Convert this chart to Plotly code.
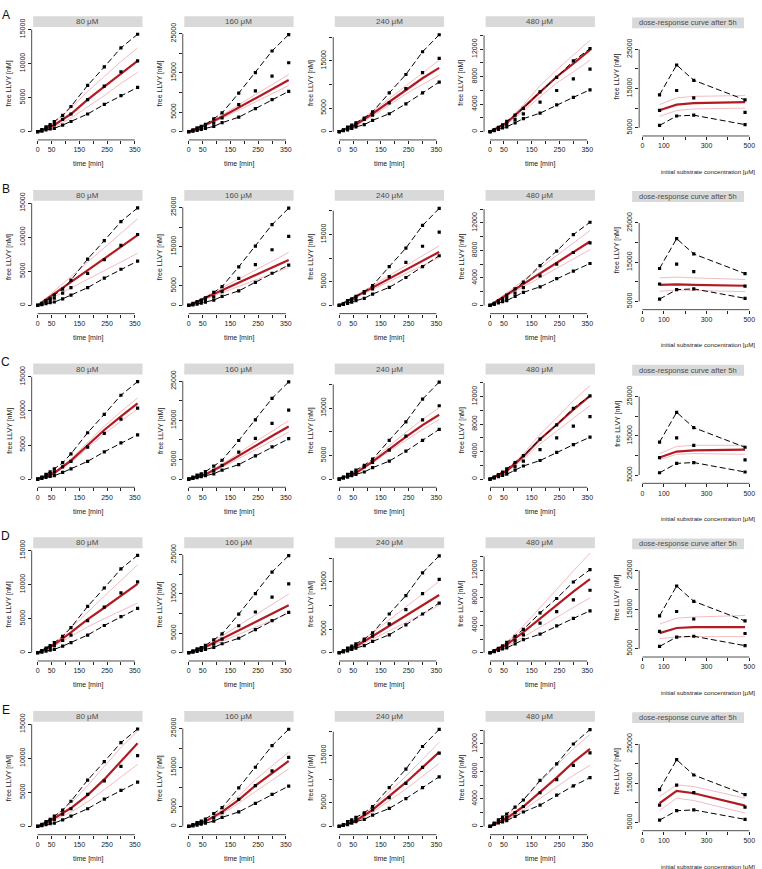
import plotly.graph_objects as go

W, H = 762, 869
ROW_STEP = 175.5

# ---- data ---------------------------------------------------------------
times = [0, 15, 30, 45, 60, 90, 120, 180, 240, 300, 360]
fit_times = [0, 60, 120, 180, 240, 300, 360]
doses = [80, 160, 240, 480]

conc_labels = ["80 μM", "160 μM", "240 μM", "480 μM"]
row_labels = ["A", "B", "C", "D", "E"]

# observed free LLVY [nM], three replicates (high / middle / low)
hi_80 = [0, 300, 700, 1050, 1500, 2400, 3700, 6800, 9500, 12300, 14300]
mid_80 = [0, 200, 500, 800, 1050, 1800, 2600, 4700, 6700, 8800, 10400]
lo_80 = [0, 100, 250, 400, 500, 970, 1500, 2600, 4000, 5300, 6500]

hi_160 = [0, 500, 1000, 1350, 1900, 3300, 4800, 9850, 15100, 20600, 24800]
mid_160 = [0, 300, 700, 1000, 1400, 2200, 3500, 6900, 10400, 14200, 17600]
lo_160 = [0, 150, 350, 600, 850, 1350, 2300, 3700, 5900, 8200, 10300]

hi_240 = [0, 400, 1000, 1400, 1900, 2900, 4200, 8200, 12100, 16900, 20500]
mid_240 = [0, 350, 800, 1100, 1500, 2600, 3500, 6100, 9100, 12500, 15500]
lo_240 = [0, 200, 400, 700, 1000, 1500, 2400, 3800, 5900, 8200, 10500]

hi_480 = [0, 300, 650, 1000, 1500, 2400, 3400, 5800, 7900, 10300, 12100]
mid_480 = [0, 250, 500, 800, 1100, 1800, 2600, 4300, 6000, 7700, 9100]
lo_480 = [0, 150, 350, 550, 700, 1300, 1900, 2700, 3900, 5000, 6100]

# row E shows the 480 uM set on a different scale
hi_480_e = [0, 500, 950, 1350, 1800, 2800, 3850, 6700, 9100, 12000, 14100]
mid_480_e = [0, 400, 700, 1050, 1300, 2000, 2900, 4900, 6800, 8900, 10700]
lo_480_e = [0, 300, 500, 650, 850, 1450, 2100, 3100, 4550, 5900, 7100]

dose_hi = [13400, 21000, 17100, 12100]
dose_mid = [9450, 14500, 12600, 8900]
dose_lo = [5600, 8000, 8200, 5800]

# model fits (fit_times), one list per concentration: 80, 160, 240, 480
fit_A = [[0, 1000, 2600, 4700, 6600, 8500, 10400],
         [0, 1700, 3800, 6200, 8600, 10900, 13200],
         [0, 1500, 3800, 6300, 8900, 11300, 13500],
         [0, 1300, 3500, 5800, 8000, 9900, 11900]]
fit_A_hi = [[0, 1300, 3500, 5900, 8100, 10300, 12300],
            [0, 1900, 4200, 6900, 9500, 12000, 14600],
            [0, 1900, 4300, 7000, 9800, 12400, 15100],
            [0, 1400, 3900, 6700, 9000, 11100, 13300]]
fit_A_lo = [[0, 700, 2000, 3600, 5300, 7100, 8700],
            [0, 1500, 3400, 5500, 7700, 9800, 11800],
            [0, 1200, 3300, 5700, 8000, 10000, 12000],
            [0, 1100, 3000, 5100, 7100, 8700, 10400]]

fit_B = [[0, 1720, 3430, 5150, 6870, 8580, 10300],
         [0, 1930, 3870, 5800, 7730, 9670, 11600],
         [0, 1880, 3770, 5650, 7530, 9420, 11300],
         [0, 1550, 3100, 4650, 6200, 7750, 9300]]
fit_B_hi = [[0, 2120, 4230, 6350, 8470, 10580, 12700],
            [0, 2250, 4500, 6750, 9000, 11250, 13500],
            [0, 2100, 4200, 6300, 8400, 10500, 12600],
            [0, 1820, 3630, 5450, 7270, 9080, 10900]]
fit_B_lo = [[0, 1280, 2550, 3830, 5100, 6380, 7650],
            [0, 1620, 3230, 4850, 6470, 8080, 9700],
            [0, 1680, 3370, 5050, 6730, 8420, 10100],
            [0, 1350, 2700, 4050, 5400, 6750, 8100]]

fit_C = [[0, 900, 2700, 4900, 7200, 9200, 11100],
         [0, 1200, 3400, 6000, 8500, 11000, 13400],
         [0, 1300, 3700, 6400, 8900, 11400, 13600],
         [0, 1200, 3300, 5800, 7900, 10100, 12100]]
fit_C_hi = [[0, 1000, 2950, 5300, 7750, 9900, 11900],
            [0, 1350, 3800, 6700, 9500, 12200, 14900],
            [0, 1450, 4100, 7100, 9900, 12600, 15100],
            [0, 1400, 3700, 6500, 8900, 11400, 13600]]
fit_C_lo = [[0, 800, 2450, 4500, 6650, 8500, 10300],
            [0, 1050, 3000, 5300, 7500, 9800, 12000],
            [0, 1200, 3400, 5900, 8200, 10500, 12600],
            [0, 1050, 2900, 5100, 7000, 8900, 10700]]

fit_D = [[0, 1200, 3000, 4900, 6600, 8400, 10100],
         [0, 1500, 3600, 5700, 7800, 10000, 12100],
         [0, 1400, 3500, 5700, 7900, 10100, 12200],
         [0, 1200, 3000, 5000, 7000, 8900, 10700]]
fit_D_hi = [[0, 1400, 3600, 6000, 8300, 10600, 12900],
            [0, 1800, 4300, 7000, 9700, 12400, 15000],
            [0, 1600, 4200, 7000, 9700, 12400, 15100],
            [0, 1500, 3900, 6600, 9200, 11900, 14500]]
fit_D_lo = [[0, 1000, 2400, 3800, 5000, 6200, 7300],
            [0, 1200, 2900, 4700, 6500, 8300, 10100],
            [0, 1100, 2900, 4600, 6400, 8200, 10000],
            [0, 950, 2300, 3700, 5100, 6600, 8000]]

fit_E = [[0, 1200, 2700, 4600, 6900, 9500, 12200],
         [0, 1300, 3700, 6800, 10400, 13600, 16700],
         [0, 1200, 3500, 6400, 9300, 12500, 15700],
         [0, 1200, 2900, 5000, 7100, 9350, 11300]]
fit_E_hi = [[0, 1500, 3400, 6000, 8800, 11600, 14000],
            [0, 1500, 4300, 7800, 11900, 15500, 19000],
            [0, 1400, 4000, 7300, 10600, 14200, 17800],
            [0, 1450, 3850, 6500, 8900, 11300, 13400]]
fit_E_lo = [[0, 950, 2100, 3600, 5400, 7200, 9100],
            [0, 1100, 3200, 5900, 8900, 11800, 14700],
            [0, 1000, 3000, 5400, 7900, 10600, 13300],
            [0, 950, 2400, 4100, 5800, 7450, 8900]]

# dose-response fits after 5h (doses), rows A..E
dose_fit = [[9450, 10900, 11300, 11550],
            [9200, 9350, 9200, 9000],
            [9500, 11000, 11300, 11500],
            [9000, 10300, 10500, 10500],
            [9900, 13050, 12450, 9300]]
dose_fit_hi = [[10900, 12600, 13000, 13200],
               [11000, 11200, 11000, 10600],
               [10500, 12300, 12600, 12600],
               [11300, 12800, 13100, 13500],
               [11600, 14600, 14150, 11200]]
dose_fit_lo = [[7900, 9400, 9800, 10000],
               [7600, 7900, 7800, 7500],
               [8900, 10300, 10500, 10300],
               [7600, 8000, 8100, 8100],
               [8050, 11200, 10600, 7400]]

# ---- styling / geometry (pixels, row A) ----------------------------------
RED = "#b31b23"
PINK = "#f1b3bb"
FONT = "Liberation Sans, Arial, sans-serif"
TXT = "#222222"
DASH = "6px,3px"

KX0 = [37.7, 189, 339.7, 490.7]   # pixel of t = 0 per column
KXS = 0.278                        # px per minute
KYS = [0.006887, 0.00396, 0.00478, 0.006944]  # px per nM per column
Y_TICKS = [[0, 5000, 10000, 15000],
           [0, 5000, 10000, 15000, 20000, 25000],
           [0, 5000, 10000, 15000, 20000],
           [0, 2000, 4000, 6000, 8000, 10000, 12000, 14000]]
Y_TEXT = [["0", "5000", "10000", "15000"],
          ["0", "5000", "", "15000", "", "25000"],
          ["0", "5000", "", "15000", ""],
          ["0", "", "4000", "", "8000", "", "12000", ""]]
X_TICKS = [0, 50, 100, 150, 200, 250, 300, 350]
X_TEXT = ["0", "50", "", "150", "", "250", "", "350"]

obs = [(hi_80, mid_80, lo_80), (hi_160, mid_160, lo_160),
       (hi_240, mid_240, lo_240), (hi_480, mid_480, lo_480)]
fits = [(fit_A, fit_A_hi, fit_A_lo), (fit_B, fit_B_hi, fit_B_lo),
        (fit_C, fit_C_hi, fit_C_lo), (fit_D, fit_D_hi, fit_D_lo),
        (fit_E, fit_E_hi, fit_E_lo)]

fig = go.Figure()
layout = {}
shapes = []
annotations = []


def fx(p):
    return p / W


def fy(p):
    return 1 - p / H


def axis_style(**kw):
    d = dict(showline=False, showgrid=False, zeroline=False, ticks="outside",
             ticklen=3, tickwidth=0.7, tickcolor=TXT,
             tickfont=dict(size=7, color=TXT, family=FONT), fixedrange=True)
    d.update(kw)
    return d


def text(x, y, s, size=7, angle=0, color=TXT):
    annotations.append(dict(x=fx(x), y=fy(y), xref="paper", yref="paper", text=s,
                            showarrow=False, textangle=angle,
                            xanchor="center", yanchor="middle",
                            font=dict(size=size, color=color, family=FONT)))


def axis_lines(n, xa, xb, ya, yb):
    xs = "x" if n == 1 else f"x{n}"
    ys = "y" if n == 1 else f"y{n}"
    shapes.append(dict(type="line", xref=xs, yref=ys + " domain", x0=xa, x1=xb,
                       y0=0, y1=0, line=dict(color=TXT, width=0.8)))
    shapes.append(dict(type="line", xref=xs + " domain", yref=ys, x0=0, x1=0,
                       y0=ya, y1=yb, line=dict(color=TXT, width=0.8)))


def add_series(n, x, y, mode, dash=None, width=1.0, color="black"):
    xs = "x" if n == 1 else f"x{n}"
    ys = "y" if n == 1 else f"y{n}"
    tr = dict(x=x, y=y, xaxis=xs, yaxis=ys, mode=mode, showlegend=False,
              hoverinfo="skip")
    if "lines" in mode:
        tr["line"] = dict(color=color, width=width, dash=dash)
    if "markers" in mode:
        tr["marker"] = dict(color="black", size=3.2, symbol="square")
    fig.add_trace(go.Scatter(**tr))


for r in range(5):
    off = r * ROW_STEP
    text(6, 6 + off, row_labels[r], size=12, color="#111")
    fit, fit_hi, fit_lo = fits[r]

    for c in range(4):
        n = r * 5 + c + 1
        x0 = KX0[c]
        left, right = x0 - 6, x0 + 104
        ybot, ytop, yzero = 132.3 + off, 18.5 + off, 124 + off
        ys = KYS[c]
        layout["xaxis" if n == 1 else f"xaxis{n}"] = axis_style(
            domain=[fx(left), fx(right)],
            range=[(left - x0) / KXS, (right - x0) / KXS],
            anchor="y" if n == 1 else f"y{n}",
            tickvals=X_TICKS, ticktext=X_TEXT)
        layout["yaxis" if n == 1 else f"yaxis{n}"] = axis_style(
            domain=[fy(ybot), fy(ytop)],
            range=[-(ybot - yzero) / ys, (yzero - ytop) / ys],
            anchor="x" if n == 1 else f"x{n}",
            tickvals=Y_TICKS[c], ticktext=Y_TEXT[c], tickangle=-90)
        axis_lines(n, 0, 350, 0, Y_TICKS[c][-1])

        hi, mid, lo = obs[c]
        if c == 3 and r == 4:
            hi, mid, lo = hi_480_e, mid_480_e, lo_480_e
        add_series(n, fit_times, fit_hi[c], "lines", width=0.9, color=PINK)
        add_series(n, fit_times, fit_lo[c], "lines", width=0.9, color=PINK)
        add_series(n, fit_times, fit[c], "lines", width=2.2, color=RED)
        add_series(n, times, hi, "lines+markers", dash=DASH)
        add_series(n, times, lo, "lines+markers", dash=DASH)
        add_series(n, times, mid, "markers")

        # strip + titles
        shapes.append(dict(type="rect", xref="paper", yref="paper",
                           x0=fx(x0 - 4.5), x1=fx(x0 + 105),
                           y0=fy(18.3 + off), y1=fy(7.3 + off),
                           fillcolor="#d9d9d9", line=dict(width=0)))
        text(x0 + 50, 12.8 + off, conc_labels[c], size=8, color="#4d4d4d")
        text(x0 + 50, 157 + off, "time [min]")
        text(x0 - 28.5, 75 + off, "free LLVY [nM]", angle=-90)

    # dose-response panel
    n = r * 5 + 5
    x0, xs = 643.3, 0.214
    left, right = 640, 755
    ybot, ytop, y5k, ys = 128.3 + off, 37 + off, 120 + off, 0.003965
    layout[f"xaxis{n}"] = axis_style(
        domain=[fx(left), fx(right)],
        range=[(left - x0) / xs, (right - x0) / xs], anchor=f"y{n}",
        tickvals=[0, 100, 200, 300, 400, 500],
        ticktext=["0", "100", "", "300", "", "500"])
    layout[f"yaxis{n}"] = axis_style(
        domain=[fy(ybot), fy(ytop)],
        range=[5000 - (ybot - y5k) / ys, 5000 + (y5k - ytop) / ys],
        anchor=f"x{n}", tickvals=[5000, 10000, 15000, 20000, 25000],
        ticktext=["5000", "", "15000", "", "25000"], tickangle=-90)
    axis_lines(n, 0, 500, 5000, 25000)

    add_series(n, doses, dose_fit_hi[r], "lines", width=0.9, color=PINK)
    add_series(n, doses, dose_fit_lo[r], "lines", width=0.9, color=PINK)
    add_series(n, doses, dose_fit[r], "lines", width=2.2, color=RED)
    add_series(n, doses, dose_hi, "lines+markers", dash=DASH)
    add_series(n, doses, dose_lo, "lines+markers", dash=DASH)
    add_series(n, doses, dose_mid, "markers")

    shapes.append(dict(type="rect", xref="paper", yref="paper",
                       x0=fx(633), x1=fx(745), y0=fy(19.5 + off), y1=fy(8.5 + off),
                       fillcolor="#d9d9d9", line=dict(width=0)))
    text(689, 14 + off, "dose-response curve after 5h", size=7.5, color="#4d4d4d")
    text(618, 68 + off, "free LLVY [nM]", angle=-90)
    text(709, 164 + off, "initial substrate concentration [μM]", size=6.2)

fig.update_layout(**layout)
fig.update_layout(width=W, height=H, margin=dict(l=0, r=0, t=0, b=0),
                  paper_bgcolor="white", plot_bgcolor="white",
                  showlegend=False, shapes=shapes, annotations=annotations,
                  font=dict(family=FONT, size=7, color=TXT))

# drop the default page margin so the figure sits at the window origin
fig.write_html("out.html", config={"displayModeBar": False}, post_script=(
    "document.body.style.margin='0';document.body.style.overflow='hidden';"))
